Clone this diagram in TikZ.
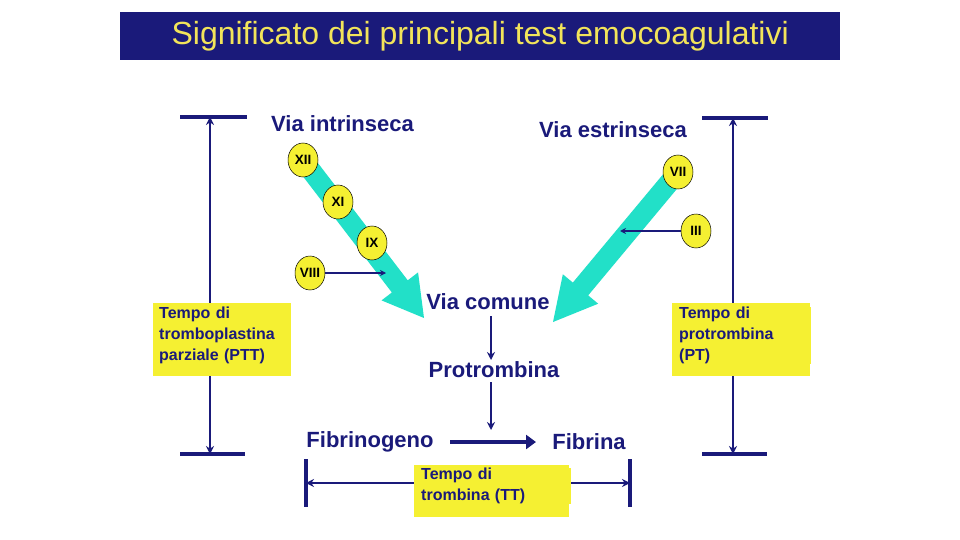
\documentclass[tikz,border=0pt]{standalone}
\usepackage{fontspec}
\setmainfont{Liberation Sans}
\usetikzlibrary{calc,arrows.meta,shapes.geometric}
\definecolor{navy}{HTML}{1A1A7A}
\definecolor{ylw}{HTML}{F5F032}
\definecolor{cyn}{HTML}{22E0C8}
\definecolor{ttl}{HTML}{F2E45A}
\begin{document}
\begin{tikzpicture}[x=1pt,y=-1pt,
  bar/.style={navy,line width=3.5pt},
  ln/.style={navy,line width=2.5pt,-{Stealth[length=8pt,width=8pt]}},
  fac/.style={ellipse,draw=black,line width=0.5pt,fill=ylw,inner sep=0pt,minimum width=30pt,minimum height=34pt,font=\bfseries\fontsize{13.5}{13.5}\selectfont},
  lbl/.style={text=navy,font=\bfseries\fontsize{22}{24}\selectfont,inner sep=1pt},
  ybox/.style={fill=ylw,text=navy,align=left,anchor=north west,inner sep=0pt,font=\bfseries\fontsize{16}{21}\selectfont}]
\useasboundingbox (0,0) rectangle (960,540);
\fill[white] (0,0) rectangle (960,540);
% title
\node[fill=navy,text=ttl,minimum width=720pt,minimum height=48pt,inner sep=0pt,anchor=north west,font=\fontsize{32}{34}\selectfont] (title) at (120,12) {Significato dei principali test emocoagulativi};
% left bracket
\coordinate (lt) at (210,117); \coordinate (lb) at (210,454);
\draw[bar] (180,117) -- (247,117); \draw[bar] (180,454) -- (245,454);
\draw[ln] (210,305) -- (lt); \draw[ln] (210,370) -- (lb);
% right bracket
\coordinate (rt) at (733,118); \coordinate (rb) at (733,454);
\draw[bar] (702,118) -- (768,118); \draw[bar] (702,454) -- (767,454);
\draw[ln] (733,305) -- (rt); \draw[ln] (733,370) -- (rb);
% yellow boxes
\fill[ylw] (153,303) rectangle (291,376);
\node[ybox,text width=132pt] (ptt) at (159,307) {Tempo di\\tromboplastina\\parziale (PTT)};
\fill[ylw] (672,303) rectangle (810,376);
\node[ybox,text width=132pt] (pt) at (679,307) {Tempo di\\protrombina\\(PT)};
% labels
\node[lbl,anchor=west] (vi) at (270,124) {Via intrinseca};
\node[lbl,anchor=west] (ve) at (538,130) {Via estrinseca};
\node[lbl] (vc) at (488,302) {Via comune};
\node[lbl] (pr) at (494,370) {Protrombina};
\node[lbl] (fg) at (370,442) {Fibrinogeno};
\node[lbl] (fb) at (589,442) {Fibrina};
% fat arrows
\coordinate (T1) at (303,160); \coordinate (P1) at (424,318);
\coordinate (H1) at ($(T1)!0.8!(P1)$);
\fill[cyn] ($(T1)!10pt!90:(P1)$) -- ($(H1)!10pt!90:(P1)$) -- ($(H1)!23pt!90:(P1)$) -- (P1) -- ($(H1)!23pt!-90:(P1)$) -- ($(H1)!10pt!-90:(P1)$) -- ($(T1)!10pt!-90:(P1)$) -- cycle;
\coordinate (T2) at (678,172); \coordinate (P2) at (553,322);
\coordinate (H2) at ($(T2)!0.78!(P2)$);
\fill[cyn] ($(T2)!10pt!90:(P2)$) -- ($(H2)!10pt!90:(P2)$) -- ($(H2)!23pt!90:(P2)$) -- (P2) -- ($(H2)!23pt!-90:(P2)$) -- ($(H2)!10pt!-90:(P2)$) -- ($(T2)!10pt!-90:(P2)$) -- cycle;
% factors
\node[fac] (xii) at (303,160) {XII};
\node[fac] (xi) at (338,202) {XI};
\node[fac] (ix) at (372,243) {IX};
\node[fac] (viii) at (310,273) {VIII};
\node[fac] (vii) at (678,172) {VII};
\node[fac] (iii) at (696,231) {III};
\coordinate (a8) at (386,273); \coordinate (a3) at (620,231);
\draw[ln,line width=2pt,-{Stealth[length=6pt,width=6pt]}] (viii) -- (a8);
\draw[ln,line width=2pt,-{Stealth[length=6pt,width=6pt]}] (iii) -- (a3);
% common pathway
\coordinate (c1) at (491,316); \coordinate (c2) at (491,360);
\coordinate (c3) at (491,382); \coordinate (pf) at (491,430);
\draw[ln] (c1) -- (c2);
\draw[ln] (c3) -- (pf);
\coordinate (f1) at (450,442); \coordinate (f2) at (536,442);
\draw[navy,line width=4.5pt,-{Triangle[length=10pt,width=14pt]}] (f1) -- (f2);
% TT bracket
\draw[bar] (306,459) -- (306,507); \draw[bar] (630,459) -- (630,507);
\coordinate (tl) at (306,483); \coordinate (tr) at (630,483);
\draw[ln] (420,483) -- (tl); \draw[ln] (560,483) -- (tr);
\fill[ylw] (414,465) rectangle (569,517);
\node[ybox,text width=150pt] (tt) at (421,468) {Tempo di\\trombina (TT)};
\end{tikzpicture}
\end{document}
